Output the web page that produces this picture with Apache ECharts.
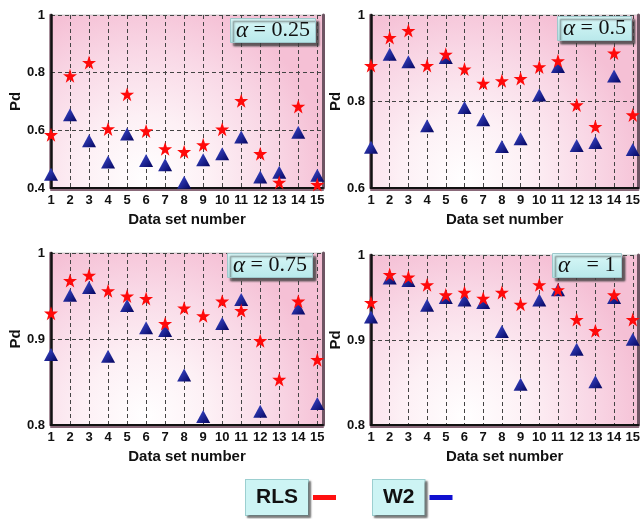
<!DOCTYPE html>
<html><head><meta charset="utf-8">
<script src="https://cdn.jsdelivr.net/npm/echarts@6/dist/echarts.min.js"></script>
<style>html,body{margin:0;padding:0;background:#fff}#c{width:643px;height:519px}</style>
</head><body><div id="c"></div>
<script>
const dataSets = [1,2,3,4,5,6,7,8,9,10,11,12,13,14,15];
const panelTitles = ['0.25', '0.5', '0.75', '1'];
const yMins = [0.4, 0.6, 0.8, 0.8];
const yIntervals = [0.2, 0.2, 0.1, 0.1];

const rls025 = [0.585,0.789,0.835,0.605,0.725,0.598,0.536,0.526,0.550,0.604,0.703,0.519,0.420,0.683,0.412];
const w2025  = [0.448,0.654,0.564,0.490,0.587,0.495,0.481,0.420,0.498,0.519,0.577,0.438,0.455,0.593,0.444];
const rls05  = [0.883,0.948,0.964,0.883,0.909,0.875,0.842,0.848,0.853,0.880,0.894,0.792,0.742,0.912,0.769];
const w205   = [0.694,0.909,0.892,0.744,0.902,0.786,0.758,0.696,0.714,0.815,0.881,0.698,0.705,0.859,0.689];
const rls075 = [0.930,0.968,0.974,0.956,0.950,0.947,0.918,0.936,0.927,0.944,0.933,0.898,0.853,0.944,0.876];
const w2075  = [0.882,0.951,0.960,0.880,0.939,0.913,0.910,0.858,0.810,0.918,0.946,0.816,null,0.936,0.825];
const rls1   = [0.944,0.977,0.974,0.965,0.953,0.956,0.949,0.956,0.942,0.965,0.959,0.924,0.911,0.953,0.924];
const w21    = [0.927,0.973,0.970,0.941,0.950,0.947,0.944,0.910,0.848,0.947,0.959,0.889,0.851,0.950,0.901];

const rlsSets = [rls025, rls05, rls075, rls1];
const w2Sets = [w2025, w205, w2075, w21];

const starPath = 'path://M50,0 L61.8,35.1 L98.1,35.1 L68.8,56.7 L79.4,91 L50,70 L20.6,91 L31.2,56.7 L1.9,35.1 L38.2,35.1 Z';
const gridPos = [
  {left:51, top:15, width:272, height:173},
  {left:371, top:15, width:272, height:173},
  {left:51, top:253, width:272, height:172},
  {left:371, top:255, width:272, height:170}
];
const titlePos = [
  {left:230, top:18},
  {left:557, top:16},
  {left:227, top:253},
  {left:552, top:253}
];
const bg = {type:'radial', x:0.35, y:0.95, r:1.05, colorStops:[
  {offset:0, color:'#ffffff'},{offset:0.35, color:'#fdf0f5'},{offset:0.7, color:'#f9d8e6'},{offset:1, color:'#f5c0d5'}]};
const font = 'Liberation Sans, Arial, sans-serif';

const grids = [], xAxes = [], yAxes = [], series = [], titles = [];
for (let i = 0; i < 4; i++) {
  grids.push(Object.assign({show:true, backgroundColor:bg, borderColor:'#ccc', borderWidth:1}, gridPos[i]));
  xAxes.push({
    gridIndex:i, type:'value', min:1, max:15.3, interval:1,
    name:'Data set number', nameLocation:'middle', nameGap:24,
    nameTextStyle:{fontFamily:font, fontWeight:'bold', fontSize:15, color:'#111'},
    axisLine:{lineStyle:{color:'#111', width:2, shadowColor:'#8a6a7a', shadowOffsetY:2}},
    axisTick:{show:false},
    axisLabel:{margin:6, fontFamily:font, fontWeight:'bold', fontSize:13, color:'#111',
      formatter: v => Number.isInteger(v) ? String(v) : ''},
    splitLine:{show:true, lineStyle:{color:'#444', type:[4,3], width:1}}
  });
  yAxes.push({
    gridIndex:i, type:'value', min:yMins[i], max:1, interval:yIntervals[i],
    name:'Pd', nameLocation:'middle', nameGap:(i%2===0)?24:17,
    nameTextStyle:{fontFamily:font, fontWeight:'bold', fontSize:15, color:'#111'},
    axisLine:{lineStyle:{color:'#111', width:2.5, shadowColor:'#8a6a7a', shadowOffsetX:-1}},
    axisTick:{show:false},
    axisLabel:{margin:6, fontFamily:font, fontWeight:'bold', fontSize:13, color:'#111',
      formatter: v => String(Math.round(v*10)/10)},
    splitLine:{show:true, lineStyle:{color:'#444', type:[4,3], width:1}}
  });
  yAxes.push({
    gridIndex:i, type:'value', position:'right', min:yMins[i], max:1,
    axisLine:{show:true, lineStyle:{color:'#6e5563', width:3}},
    axisTick:{show:false}, axisLabel:{show:false}, splitLine:{show:false}
  });
  const t = panelTitles[i];
  titles.push({
    left:titlePos[i].left, top:titlePos[i].top,
    text:(i===3 ? '{a|α}   = ' : '{a|α} = ') + t,
    padding:[1,6,1,6],
    backgroundColor:{type:'linear', x:0, y:0, x2:0, y2:1, colorStops:[{offset:0,color:'#d8f8f8'},{offset:1,color:'#b8e8ea'}]},
    borderColor:'#9fc8cc', borderWidth:1,
    shadowColor:'rgba(60,60,60,0.8)', shadowOffsetX:3, shadowOffsetY:3, shadowBlur:2,
    textStyle:{fontFamily:'Liberation Serif, Times New Roman, serif', fontWeight:'normal', fontSize:22, color:'#111',
      rich:{a:{fontFamily:'Liberation Serif, Times New Roman, serif', fontStyle:'italic', fontSize:23, color:'#111'}}}
  });
  series.push({
    name:'RLS', type:'scatter', xAxisIndex:i, yAxisIndex:2*i,
    symbol:starPath, symbolSize:14, z:3,
    itemStyle:{color:'#ff0a0a', opacity:1},
    data: dataSets.map((d, k) => [d, rlsSets[i][k]])
  });
  series.push({
    name:'W2', type:'scatter', xAxisIndex:i, yAxisIndex:2*i,
    symbol:'triangle', symbolSize:[14,13], z:2,
    itemStyle:{opacity:1, color:{type:'linear', x:0, y:0, x2:1, y2:1, colorStops:[{offset:0,color:'#4050d8'},{offset:1,color:'#04045e'}]}},
    data: dataSets.map((d, k) => [d, w2Sets[i][k]]).filter(p => p[1] !== null)
  });
}

const chart = echarts.init(document.getElementById('c'), null, {renderer:'canvas'});
chart.setOption({
  animation:false,
  title: titles,
  grid: grids,
  xAxis: xAxes,
  yAxis: yAxes,
  legend: {
    left:240, top:474, align:'right', itemGap:36, itemTextGap:6,
    icon:'rect', itemWidth:23, itemHeight:5,
    data:[{name:'RLS', itemStyle:{color:'#ff1010'}}, {name:'W2', itemStyle:{color:'#1010d0'}}],
    textStyle:{fontFamily:font, fontWeight:'bold', fontSize:21, color:'#111',
      backgroundColor:'#cdf4f4', padding:[7,10,7,10], borderColor:'#9ccfd0', borderWidth:1,
      shadowColor:'rgba(80,80,80,0.7)', shadowOffsetX:2, shadowOffsetY:2, shadowBlur:2}
  },
  series: series
});
</script></body></html>
